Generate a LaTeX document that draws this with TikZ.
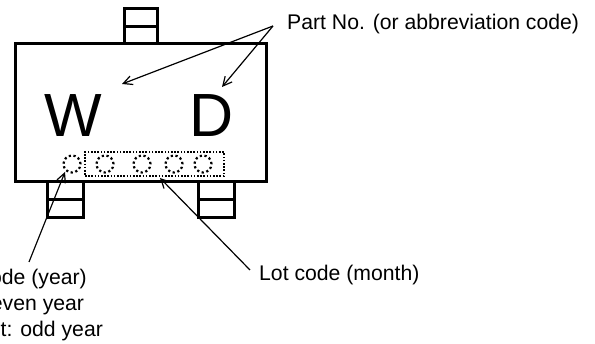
\documentclass[tikz,border=0pt]{standalone}
\usepackage{fontspec}
\setmainfont{Liberation Sans}
\usetikzlibrary{arrows.meta}
\tikzset{
  body/.style={draw=black,line width=3pt,line join=miter},
  pin/.style={draw=black,line width=3pt},
  leader/.style={draw=black,line width=1.2pt,-{Straight Barb[length=9pt,width=9pt]}},
  dotc/.style={circle,draw=black,line width=2.2pt,dash pattern=on 2.2pt off 2.6pt,minimum size=17pt,inner sep=0pt},
  dotbox/.style={draw=black,line width=1.6pt,dash pattern=on 1.6pt off 1.6pt,minimum width=139pt,minimum height=24pt,inner sep=0pt},
  lab/.style={font=\fontsize{21.2pt}{26pt}\selectfont,inner sep=0pt,align=left},
  big/.style={font=\fontsize{61pt}{61pt}\selectfont,inner sep=0pt}
}
\begin{document}
\begin{tikzpicture}[x=1pt,y=-1pt]
\useasboundingbox (0,0) rectangle (595,344);
\clip (0,0) rectangle (595,344);
\draw[pin] (124,44) rectangle (157,9) (124,27) -- (157,27);
\draw[pin] (47,182) rectangle (83,218) (47,200) -- (83,200);
\draw[pin] (198,182) rectangle (234,218) (198,200) -- (234,200);
\draw[body] (15,44) rectangle (266,182);
\node[big,anchor=base] (w) at (73.5,137) {W};
\node[big,anchor=base] (d) at (212,137) {D};
\node[dotc] (c0) at (72,164) {};
\node[dotbox] (box) at (154.5,164) {};
\node[dotc] (c1) at (105,164) {};
\node[dotc] (c2) at (142,164) {};
\node[dotc] (c3) at (174,164) {};
\node[dotc] (c4) at (203,164) {};
\node[lab,anchor=base west] (part) at (287,30) {Part No. (or abbreviation code)};
\node[lab,anchor=base west] (lot) at (259,281) {Lot code (month)};
\node[lab,anchor=north west] (year) at (-56,269) {Lot code (year)\\Dot: even year\\No dot: odd year};
\coordinate (p) at (273,26);
\coordinate (a1) at (122,84);
\coordinate (a2) at (222,87);
\coordinate (y0) at (29,262);
\coordinate (y1) at (65,172);
\coordinate (l0) at (250,270);
\coordinate (l1) at (160,178);
\draw[leader] (p) -- (a1);
\draw[leader] (p) -- (a2);
\draw[leader] (y0) -- (y1);
\draw[leader] (l0) -- (l1);
\end{tikzpicture}
\end{document}
